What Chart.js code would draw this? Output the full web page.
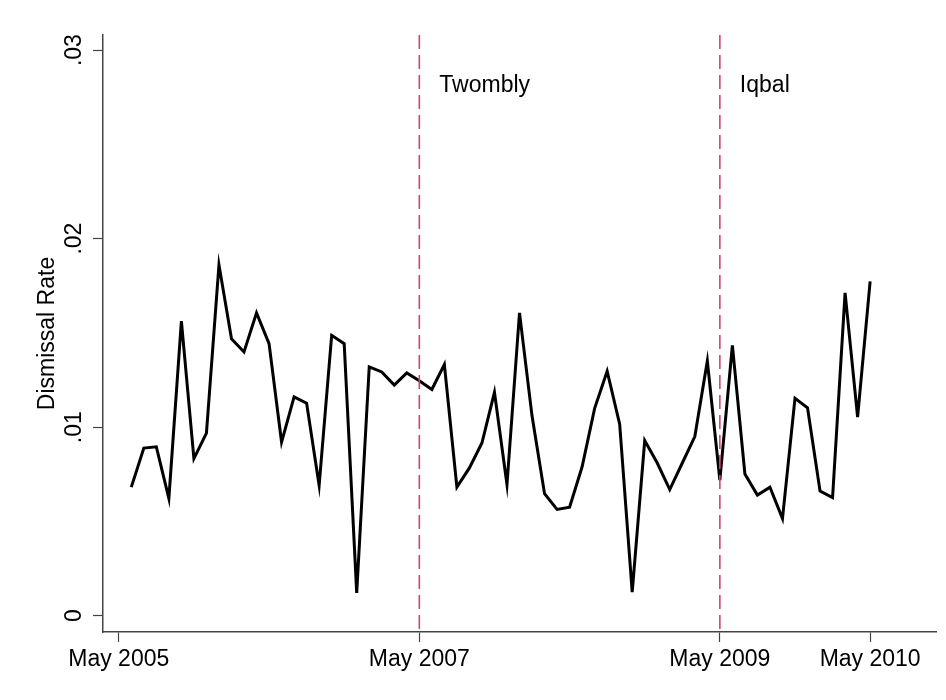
<!DOCTYPE html>
<html>
<head>
<meta charset="utf-8">
<title>Dismissal Rate</title>
<script src="https://cdn.jsdelivr.net/npm/chart.js@4/dist/chart.umd.min.js"></script>
<style>
  html, body { margin: 0; padding: 0; background: #fff; }
  #wrap { width: 946px; height: 700px; }
</style>
</head>
<body>
<div id="wrap"><canvas id="rateChart" width="946" height="700"></canvas></div>
<script>
// =========================
// DATA
// =========================
// months counted from May 2005 (0); series starts June 2005
const firstMonth = 1;

const dismissalRate = [
  0.00682, 0.00889, 0.00896, 0.00622, 0.01562, 0.00833, 0.00968, 0.01861, 0.01469, 0.01399,
  0.01606, 0.01443, 0.00921, 0.01161, 0.01127, 0.00691, 0.01487, 0.01443, 0.00121, 0.01320,
  0.01293, 0.01223, 0.01288, 0.01246, 0.01200, 0.01332, 0.00682, 0.00784, 0.00916, 0.01185,
  0.00696, 0.01606, 0.01060, 0.00647, 0.00564, 0.00576, 0.00790, 0.01100, 0.01297, 0.01016,
  0.00125, 0.00929, 0.00810, 0.00669, 0.00810, 0.00950, 0.01351, 0.00719, 0.01434, 0.00752,
  0.00640, 0.00682, 0.00515, 0.01153, 0.01103, 0.00661, 0.00626, 0.01712, 0.01053, 0.01773
];

const xTickMonths = [0, 24, 48, 60];
const xTickLabels = ["May 2005", "May 2007", "May 2009", "May 2010"];

const yTickValues = [0, 0.01, 0.02, 0.03];
const yTickLabels = ["0", ".01", ".02", ".03"];

const eventMonths = [24, 48];
const eventLabels = ["Twombly", "Iqbal"];


// =========================
// STYLE
// =========================
const FONT = "'Liberation Sans', Arial, Helvetica, sans-serif";
const AXIS_COLOR = "#444";
const EVENT_COLOR = "rgb(208, 70, 112)";


// =========================
// BUILD POINTS
// =========================
const points = dismissalRate.map((v, i) => ({ x: firstMonth + i, y: v }));


// =========================
// EVENT LINES PLUGIN
// =========================
const eventLines = {
  id: "eventLines",
  afterDatasetsDraw(chart) {
    const { ctx, chartArea, scales } = chart;
    ctx.save();
    eventMonths.forEach((m, i) => {
      const px = scales.x.getPixelForValue(m);
      ctx.beginPath();
      ctx.setLineDash([14, 6]);
      ctx.lineWidth = 1.6;
      ctx.strokeStyle = EVENT_COLOR;
      ctx.moveTo(px, chartArea.top);
      ctx.lineTo(px, chartArea.bottom);
      ctx.stroke();

      ctx.setLineDash([]);
      ctx.fillStyle = "#000";
      ctx.font = "23px " + FONT;
      ctx.textAlign = "left";
      ctx.textBaseline = "alphabetic";
      ctx.fillText(eventLabels[i], px + 20, chartArea.top + 57);
    });
    ctx.restore();
  }
};


// =========================
// RENDER CHART
// =========================
new Chart(document.getElementById("rateChart"), {
  type: "line",
  data: {
    datasets: [{
      label: "Dismissal Rate",
      data: points,
      borderColor: "#000",
      borderWidth: 3,
      borderJoinStyle: "miter",
      pointRadius: 0,
      tension: 0,
      fill: false
    }]
  },
  options: {
    responsive: false,
    animation: false,
    events: [],
    layout: { padding: { top: 35, right: 10, left: 0, bottom: 0 } },
    plugins: {
      legend: { display: false },
      tooltip: { enabled: false }
    },
    scales: {
      x: {
        type: "linear",
        min: -1.26,
        max: 65.26,
        afterBuildTicks: scale => {
          scale.ticks = xTickMonths.map(v => ({ value: v }));
        },
        afterFit: scale => { scale.height = 68; },
        ticks: {
          autoSkip: false,
          maxRotation: 0,
          padding: 4,
          color: "#000",
          font: { family: FONT, size: 23 },
          callback: (value) => xTickLabels[xTickMonths.indexOf(value)]
        },
        grid: {
          drawOnChartArea: false,
          drawTicks: true,
          tickLength: 10,
          tickColor: AXIS_COLOR,
          tickWidth: 1.2
        },
        border: { display: true, color: AXIS_COLOR, width: 1.5 }
      },
      y: {
        type: "linear",
        min: -0.000864,
        max: 0.0308,
        afterBuildTicks: scale => {
          scale.ticks = yTickValues.map(v => ({ value: v }));
        },
        afterFit: scale => { scale.width = 103; },
        title: {
          display: true,
          text: "Dismissal Rate",
          color: "#000",
          font: { family: FONT, size: 23, weight: "normal" },
          padding: { top: 34, bottom: 0 }
        },
        ticks: {
          autoSkip: false,
          minRotation: 90,
          maxRotation: 90,
          crossAlign: "center",
          padding: 2,
          color: "#000",
          font: { family: FONT, size: 23 },
          callback: (value) => yTickLabels[yTickValues.indexOf(value)]
        },
        grid: {
          drawOnChartArea: false,
          drawTicks: true,
          tickLength: 10,
          tickColor: AXIS_COLOR,
          tickWidth: 1.2
        },
        border: { display: true, color: AXIS_COLOR, width: 1.5 }
      }
    }
  },
  plugins: [eventLines]
});
</script>
</body>
</html>
